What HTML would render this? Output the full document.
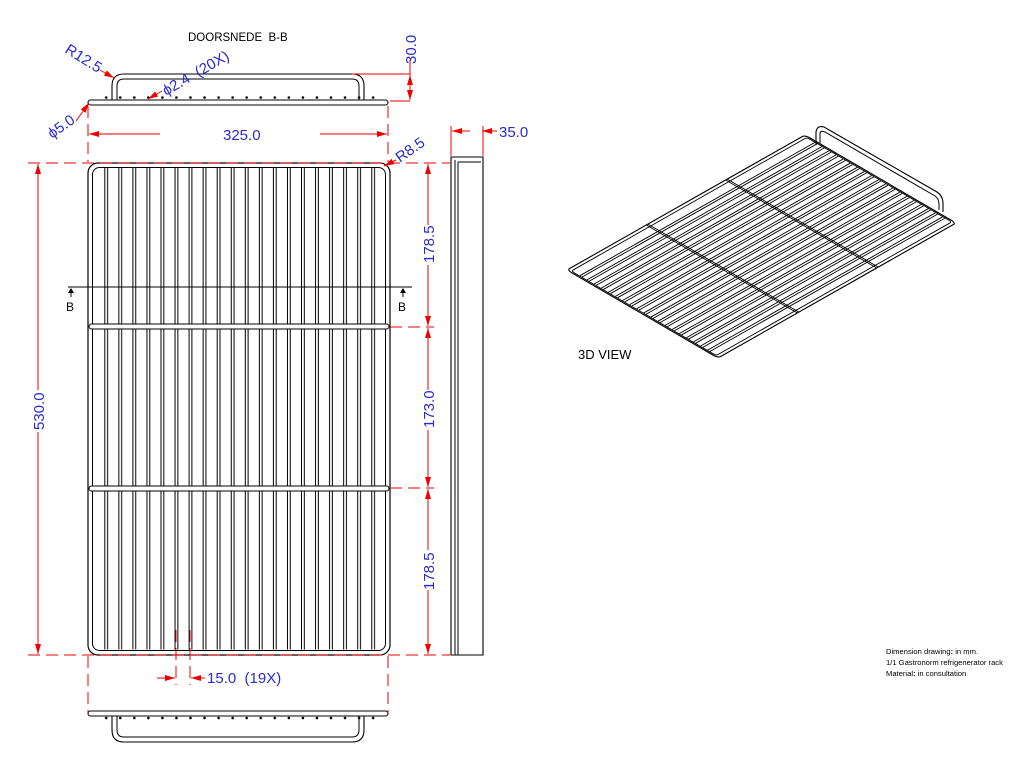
<!DOCTYPE html>
<html><head><meta charset="utf-8"><style>
html,body{margin:0;padding:0;background:#fff;}
svg{display:block;}
.b{font-family:"Liberation Sans",sans-serif;fill:#2a2ad0;font-size:15px;}
.k{font-family:"Liberation Sans",sans-serif;fill:#000;font-size:12px;}
.s{font-family:"Liberation Sans",sans-serif;fill:#000;font-size:7.6px;}
</style></head><body>
<svg width="1033" height="765" viewBox="0 0 1033 765" xmlns="http://www.w3.org/2000/svg">
<defs>
<pattern id="rods" patternUnits="userSpaceOnUse" x="99" y="0" width="14.05" height="800">
<line x1="5.8" y1="0" x2="5.8" y2="800" stroke="#000" stroke-width="1"/>
<line x1="8.6" y1="0" x2="8.6" y2="800" stroke="#000" stroke-width="1"/>
</pattern>
<pattern id="dots" patternUnits="userSpaceOnUse" x="99" y="0" width="14.05" height="800">
<circle cx="7.2" cy="97.5" r="1.3" fill="#000"/>
<circle cx="7.2" cy="718" r="1.3" fill="#000"/>
</pattern>
<marker id="ar" markerWidth="10" markerHeight="6" refX="10" refY="3" orient="auto" markerUnits="userSpaceOnUse">
<path d="M0,0 L10,3 L0,6 z" fill="#e00"/></marker>
</defs>

<!-- main rack -->
<rect x="88" y="163" width="302" height="492" rx="10" fill="none" stroke="#000" stroke-width="1.2"/>
<rect x="92.5" y="167.5" width="293" height="483" rx="7" fill="none" stroke="#000" stroke-width="1"/>
<rect x="89" y="324" width="300" height="5" rx="2.5" fill="#fff" stroke="#000" stroke-width="1"/>
<rect x="89" y="486" width="300" height="5" rx="2.5" fill="#fff" stroke="#000" stroke-width="1"/>
<rect x="99" y="329.5" width="281" height="156" fill="url(#rods)"/>
<rect x="99" y="168" width="281" height="155.5" fill="url(#rods)"/>
<rect x="99" y="491.5" width="281" height="158" fill="url(#rods)"/>

<!-- section line B-B -->
<line x1="68" y1="287" x2="412" y2="287" stroke="#000" stroke-width="1"/>
<line x1="71" y1="289" x2="71" y2="297" stroke="#000"/><path d="M68,293 L71,288 L74,293z" fill="#000"/>
<line x1="403" y1="289" x2="403" y2="297" stroke="#000"/><path d="M400,293 L403,288 L406,293z" fill="#000"/>
<text class="k" x="66" y="311">B</text><text class="k" x="398" y="311">B</text>

<!-- section B-B top -->
<text class="k" x="188" y="41" style="font-size:11.5px">DOORSNEDE&#160;&#160;B-B</text>
<path d="M112,100 L112,86 Q112,74 124,74 L352,74 Q364,74 364,86 L364,100" fill="none" stroke="#000" stroke-width="1.1"/>
<path d="M117,100 L117,86 Q117,79 124,79 L352,79 Q359,79 359,86 L359,100" fill="none" stroke="#000" stroke-width="1"/>
<rect x="88" y="100" width="300" height="5" rx="2.5" fill="#fff" stroke="#000" stroke-width="1.1"/>
<rect x="99" y="94" width="281" height="6" fill="url(#dots)"/>

<!-- bottom view -->
<rect x="88" y="711" width="300" height="5" rx="2.5" fill="#fff" stroke="#000" stroke-width="1.1"/>
<rect x="99" y="716" width="281" height="5" fill="url(#dots)"/>
<path d="M112,716 L112,730 Q112,742 124,742 L352,742 Q364,742 364,730 L364,716" fill="none" stroke="#000" stroke-width="1.1"/>
<path d="M117,716 L117,730 Q117,737 124,737 L352,737 Q359,737 359,730 L359,716" fill="none" stroke="#000" stroke-width="1"/>

<!-- side view -->
<path d="M451,655 L451,157 L483,157 L483,655 Z" fill="none" stroke="#000" stroke-width="1.1"/>
<line x1="455" y1="160" x2="455" y2="655" stroke="#000"/>
<line x1="458" y1="162" x2="458" y2="655" stroke="#000"/>
<line x1="458" y1="162" x2="481" y2="162" stroke="#000"/>

<!-- red dims -->
<g stroke="#e00" stroke-width="1" fill="none">
<g stroke-dasharray="12,6">
<line x1="88" y1="106" x2="88" y2="162"/><line x1="388" y1="106" x2="388" y2="162"/>
<line x1="28" y1="163" x2="450" y2="163"/><line x1="28" y1="655" x2="450" y2="655"/>
<line x1="390" y1="327" x2="434" y2="327"/><line x1="390" y1="488" x2="434" y2="488"/>
<line x1="88" y1="656" x2="88" y2="712"/><line x1="388" y1="656" x2="388" y2="712"/>
<line x1="176" y1="630" x2="176" y2="685"/><line x1="190" y1="630" x2="190" y2="685"/>
</g>
<line x1="160" y1="134" x2="89" y2="134" marker-end="url(#ar)"/>
<line x1="320" y1="134" x2="387" y2="134" marker-end="url(#ar)"/>
<line x1="38" y1="390" x2="38" y2="164" marker-end="url(#ar)"/>
<line x1="38" y1="432" x2="38" y2="654" marker-end="url(#ar)"/>
<line x1="428" y1="225" x2="428" y2="164" marker-end="url(#ar)"/>
<line x1="428" y1="265" x2="428" y2="326" marker-end="url(#ar)"/>
<line x1="428" y1="390" x2="428" y2="328" marker-end="url(#ar)"/>
<line x1="428" y1="430" x2="428" y2="487" marker-end="url(#ar)"/>
<line x1="428" y1="550" x2="428" y2="489" marker-end="url(#ar)"/>
<line x1="428" y1="590" x2="428" y2="654" marker-end="url(#ar)"/>
<line x1="157" y1="678" x2="175" y2="678" marker-end="url(#ar)"/>
<line x1="205" y1="678" x2="191" y2="678" marker-end="url(#ar)"/>
<line x1="352" y1="74" x2="410" y2="74"/><line x1="390" y1="101" x2="410" y2="101"/>
<line x1="410" y1="60" x2="410" y2="100" marker-end="url(#ar)"/>
<line x1="410" y1="88" x2="410" y2="75" marker-end="url(#ar)"/>
<line x1="451" y1="156" x2="451" y2="126"/><line x1="483" y1="156" x2="483" y2="126"/>
<line x1="470" y1="131" x2="452" y2="131" marker-end="url(#ar)"/>
<line x1="497" y1="131" x2="482" y2="131" marker-end="url(#ar)"/>
<line x1="100" y1="70" x2="114" y2="78" marker-end="url(#ar)"/>
<line x1="162" y1="91" x2="148" y2="99" marker-end="url(#ar)"/>
<line x1="76" y1="121" x2="89" y2="103" marker-end="url(#ar)"/>
<line x1="396" y1="160" x2="384" y2="166" marker-end="url(#ar)"/>
</g>

<!-- blue dim text -->
<text class="b" x="223" y="140">325.0</text>
<text class="b" transform="translate(44,430) rotate(-90)">530.0</text>
<text class="b" transform="translate(434,263) rotate(-90)">178.5</text>
<text class="b" transform="translate(434,428) rotate(-90)">173.0</text>
<text class="b" transform="translate(434,590) rotate(-90)">178.5</text>
<text class="b" transform="translate(416,64) rotate(-90)">30.0</text>
<text class="b" x="499" y="137">35.0</text>
<text class="b" x="207" y="683">15.0&#160;&#160;(19X)</text>
<text class="b" transform="translate(64,52) rotate(32)">R12.5</text>
<text class="b" transform="translate(166,96) rotate(-30)">ϕ2.4&#160;&#160;(20X)</text>
<text class="b" transform="translate(52,139) rotate(-35)">ϕ5.0</text>
<text class="b" transform="translate(400,163) rotate(-35)">R8.5</text>

<!-- 3D view -->
<g transform="matrix(0.7933,-0.45,1.51,0.88,567,270)" fill="none" stroke="#000">
<rect x="0" y="0" width="300" height="100" rx="3" vector-effect="non-scaling-stroke" stroke-width="1.1"/>
<rect x="1.5" y="2" width="297" height="96" rx="2" vector-effect="non-scaling-stroke" stroke-width="0.9"/>
<path vector-effect="non-scaling-stroke" stroke-width="0.9" d="M2,7.5H298M2,9H298M2,12.2H298M2,13.7H298M2,16.9H298M2,18.4H298M2,21.6H298M2,23.1H298M2,26.3H298M2,27.8H298M2,31H298M2,32.5H298M2,35.7H298M2,37.2H298M2,40.4H298M2,41.9H298M2,45.1H298M2,46.6H298M2,49.8H298M2,51.3H298M2,54.5H298M2,56H298M2,59.2H298M2,60.7H298M2,63.9H298M2,65.4H298M2,68.6H298M2,70.1H298M2,73.3H298M2,74.8H298M2,78H298M2,79.5H298M2,82.7H298M2,84.2H298M2,87.4H298M2,88.9H298M2,92.1H298M2,93.6H298"/>
<path vector-effect="non-scaling-stroke" stroke-width="0.9" d="M100,0V100M102,0V100M200,0V100M202,0V100"/>
</g>
<path d="M816,145 L816,132 Q817,125 824,127 L937,192 Q943,196 943,203 L943,212" fill="none" stroke="#000" stroke-width="1.1"/>
<path d="M820,143 L820,133 Q821,130 825,132 L935,196 Q939,199 939,204 L939,210" fill="none" stroke="#000" stroke-width="1"/>
<text class="k" x="578" y="359" style="font-size:13px">3D VIEW</text>

<text class="s" x="886" y="654">Dimension drawing<tspan font-weight="bold">:</tspan> in mm.</text>
<text class="s" x="886" y="665">1/1 Gastronorm refrigenerator rack</text>
<text class="s" x="886" y="676">Material<tspan font-weight="bold">:</tspan> in consultation</text>
</svg>
</body></html>
